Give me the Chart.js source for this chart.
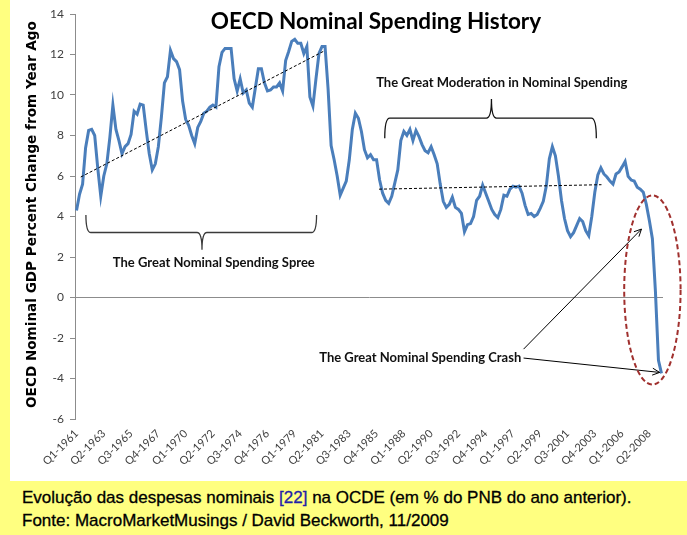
<!DOCTYPE html>
<html>
<head>
<meta charset="utf-8">
<script src="https://cdn.jsdelivr.net/npm/chart.js@4/dist/chart.umd.min.js"></script>
<style>
  html, body { margin:0; padding:0; }
  body { width:687px; height:535px; background:#FFFF80; position:relative; overflow:hidden; }
  #box { position:absolute; left:10px; top:0; width:677px; height:481px; background:#fff; }
  #c { position:absolute; left:0; top:0; }
  #cap { position:absolute; left:22px; top:486px; font-family:"Liberation Sans", Arial, sans-serif; font-size:17px; line-height:23px; color:#000; white-space:nowrap; -webkit-text-stroke:0.3px #000; }
  #cap .ref { color:#1F1FA8; -webkit-text-stroke:0.3px #1F1FA8; }
</style>
</head>
<body>
<div id="box"><canvas id="c" width="677" height="481"></canvas></div>
<div id="cap">Evolução das despesas nominais <span class="ref">[22]</span> na OCDE (em % do PNB do ano anterior).<br>Fonte: MacroMarketMusings / David Beckworth, 11/2009</div>
<script>
// ---- data ----
const firstYear = 1961;
const quarterCount = 194;
const categories = [];
for (let i = 0; i < quarterCount; i++) {
  categories.push('Q' + (i % 4 + 1) + '-' + (firstYear + Math.floor(i / 4)));
}
const labelEvery = 9;
const yTicks = [-6, -4, -2, 0, 2, 4, 6, 8, 10, 12, 14];
const nominalGrowth = [
  4.3, 5.1, 5.6, 7.4, 8.25, 8.3, 8.0, 6.4, 5.0, 6.0,
  6.6, 7.9, 9.5, 8.3, 7.75, 7.1, 7.45, 7.6, 8.05, 9.2,
  9.05, 9.55, 9.5, 8.25, 7.1, 6.3, 6.6, 7.45, 8.9, 10.6,
  10.9, 12.2, 11.8, 11.65, 11.25, 9.7, 8.8, 8.5, 8.0, 7.6,
  8.4, 8.7, 9.1, 9.2, 9.4, 9.5, 9.4, 11.4, 12.1, 12.3,
  12.3, 12.3, 10.8, 10.2, 10.8, 10.1, 10.25, 9.6, 9.4, 10.35,
  11.3, 11.3, 10.6, 10.2, 10.25, 10.4, 10.4, 10.6, 10.2, 11.7,
  12.15, 12.65, 12.75, 12.55, 12.55, 12.05, 12.4, 9.9, 9.45, 10.8,
  12.05, 12.4, 12.4, 10.3, 7.5, 6.8, 6.0, 5.05, 5.4, 5.75,
  6.8, 8.3, 9.1, 8.85, 8.2, 7.3, 6.9, 7.05, 6.8, 6.8,
  5.8, 5.15, 4.8, 4.65, 5.0, 5.65, 6.3, 7.75, 8.2, 8.0,
  8.3, 7.75, 8.25, 7.95, 7.55, 7.25, 7.15, 7.45, 7.05, 6.6,
  5.6, 4.75, 4.45, 4.6, 4.95, 4.45, 4.35, 4.15, 3.25, 3.6,
  3.65, 4.0, 4.8, 5.0, 5.55, 5.15, 4.75, 4.35, 4.1, 3.95,
  4.35, 5.05, 5.0, 5.35, 5.5, 5.45, 5.5, 5.15, 4.55, 4.1,
  4.15, 4.0, 4.1, 4.4, 4.75, 5.5, 6.85, 7.45, 7.0, 6.0,
  4.8, 3.9, 3.3, 3.0, 3.2, 3.55, 3.9, 3.75, 3.3, 3.05,
  4.0, 5.2, 6.05, 6.4, 6.1, 5.95, 5.75, 5.6, 6.1, 6.2,
  6.45, 6.72, 5.98, 5.8, 5.75, 5.45, 5.35, 5.2, 4.6, 3.8,
  2.9, 0.3, -3.1, -3.75
];
// trend lines: [quarter index, value] end points
const spreeTrend = [[1.4, 5.95], [81.4, 12.15]];
const moderationTrend = [[99.8, 5.35], [173.2, 5.57]];

// ---- annotations (in data units: x = quarter index, y = percent) ----
const notes = {
  title: 'OECD Nominal Spending History',
  yTitle: 'OECD Nominal GDP Percent Change from Year Ago',
  spree: { text: 'The Great Nominal Spending Spree', at: [45.3, 1.72],
           brace: { left: 3.1, right: 79.2, tip: 41.4, end: 4.08, bar: 3.21, point: 2.36 } },
  moderation: { text: 'The Great Moderation in Nominal Spending', at: [140.3, 10.62],
           brace: { left: 101.7, right: 171.5, tip: 136.9, end: 7.87, bar: 8.86, point: 9.8 } },
  crash: { text: 'The Great Nominal Spending Crash', at: [113.4, -2.99],
           arrows: [[[147.5, -2.55], [186.4, 3.38]], [[147.5, -2.99], [192.4, -3.70]]],
           ellipse: { cx: 190.0, cy: 0.37, rx: 9.3, ry: 4.67 } }
};

const annotate = {
  id: 'annotate',
  afterDatasetsDraw(chart) {
    const ctx = chart.ctx, xs = chart.scales.x, ys = chart.scales.y;
    const X = v => xs.getPixelForValue(v), Y = v => ys.getPixelForValue(v);
    ctx.save();
    // dashed trend lines
    ctx.strokeStyle = '#000'; ctx.lineWidth = 1; ctx.setLineDash([3, 2]);
    [spreeTrend, moderationTrend].forEach(t => {
      ctx.beginPath(); ctx.moveTo(X(t[0][0]), Y(t[0][1])); ctx.lineTo(X(t[1][0]), Y(t[1][1])); ctx.stroke();
    });
    ctx.setLineDash([]);
    // braces
    function brace(b, color) {
      const l = X(b.left), r = X(b.right), t = X(b.tip);
      const e = Y(b.end), h = Y(b.bar), p = Y(b.point);
      const rr = 5;
      ctx.strokeStyle = color; ctx.lineWidth = 1.3;
      ctx.beginPath();
      ctx.moveTo(l, e);
      ctx.quadraticCurveTo(l, h, l + rr, h);
      ctx.lineTo(t - rr, h);
      ctx.quadraticCurveTo(t, h, t, p);
      ctx.quadraticCurveTo(t, h, t + rr, h);
      ctx.lineTo(r - rr, h);
      ctx.quadraticCurveTo(r, h, r, e);
      ctx.stroke();
    }
    brace(notes.spree.brace, '#3a3a3a');
    brace(notes.moderation.brace, '#111');
    // texts
    ctx.fillStyle = '#111';
    ctx.font = 'bold 13px Lato';
    ctx.textAlign = 'center'; ctx.textBaseline = 'middle';
    [notes.spree, notes.moderation, notes.crash].forEach(n => ctx.fillText(n.text, X(n.at[0]), Y(n.at[1])));
    // arrows
    ctx.strokeStyle = '#000'; ctx.lineWidth = 1;
    notes.crash.arrows.forEach(a => {
      const x1 = X(a[0][0]), y1 = Y(a[0][1]), x2 = X(a[1][0]), y2 = Y(a[1][1]);
      ctx.beginPath(); ctx.moveTo(x1, y1); ctx.lineTo(x2, y2); ctx.stroke();
      const ang = Math.atan2(y2 - y1, x2 - x1), L = 8, w = 0.45;
      ctx.beginPath();
      ctx.moveTo(x2 - L * Math.cos(ang - w), y2 - L * Math.sin(ang - w));
      ctx.lineTo(x2, y2);
      ctx.lineTo(x2 - L * Math.cos(ang + w), y2 - L * Math.sin(ang + w));
      ctx.stroke();
    });
    // ellipse
    const el = notes.crash.ellipse;
    const ecx = X(el.cx), ecy = Y(el.cy);
    const erx = Math.abs(X(el.cx + el.rx) - ecx), ery = Math.abs(Y(el.cy + el.ry) - ecy);
    ctx.strokeStyle = '#A0302E'; ctx.lineWidth = 2; ctx.setLineDash([5, 3]);
    ctx.beginPath(); ctx.ellipse(ecx, ecy, erx, ery, 0, 0, Math.PI * 2); ctx.stroke();
    ctx.setLineDash([]);
    // chart title
    ctx.fillStyle = '#000';
    ctx.font = 'bold 22.5px Lato';
    ctx.fillText(notes.title, 366, 22);
    // y axis title
    ctx.save();
    ctx.translate(22, (chart.chartArea.top + chart.chartArea.bottom) / 2 - 2);
    ctx.rotate(-Math.PI / 2);
    ctx.font = 'bold 13.6px "DejaVu Sans"';
    ctx.fillText(notes.yTitle, 0, 0);
    ctx.restore();
    ctx.restore();
  }
};

new Chart(document.getElementById('c'), {
  type: 'line',
  data: {
    labels: categories,
    datasets: [{
      data: nominalGrowth,
      borderColor: '#4A7EBB',
      borderWidth: 3,
      pointRadius: 0,
      tension: 0,
      fill: false
    }]
  },
  options: {
    responsive: false,
    animation: false,
    events: [],
    layout: { padding: { left: 0, right: 24, top: 14, bottom: 0 } },
    plugins: { legend: { display: false }, tooltip: { enabled: false }, title: { display: false } },
    scales: {
      x: {
        type: 'category',
        offset: true,
        grid: { display: false, drawTicks: false },
        border: { display: false },
        ticks: {
          autoSkip: false, minRotation: 45, maxRotation: 45, padding: 8,
          color: '#404040', font: { family: 'Lato', size: 11 },
          callback: (v, i) => (i % labelEvery === 0 ? categories[i] : '')
        },
        afterFit: s => { s.height = 62; }
      },
      y: {
        min: yTicks[0], max: yTicks[yTicks.length - 1],
        afterBuildTicks: s => { s.ticks = yTicks.map(v => ({ value: v })); },
        ticks: { color: '#404040', font: { family: 'Lato', size: 12 }, padding: 6 },
        grid: {
          color: c => (c.tick && c.tick.value === 0 ? '#8C8C8C' : 'rgba(0,0,0,0)'),
          tickColor: '#8C8C8C', tickLength: 5, lineWidth: 1
        },
        border: { display: true, color: '#8C8C8C', width: 1 },
        afterFit: s => { s.width = 65; }
      }
    }
  },
  plugins: [annotate]
});
</script>
</body>
</html>
